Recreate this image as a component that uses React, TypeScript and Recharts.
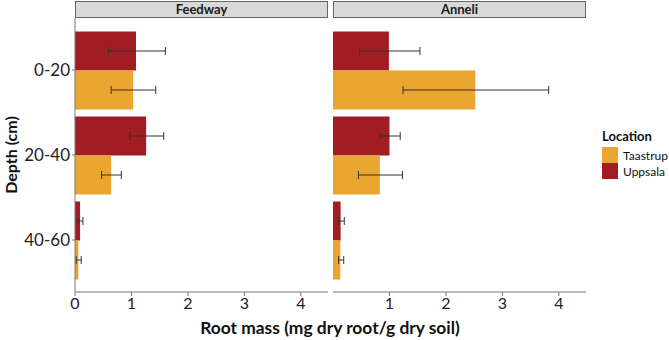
import React from 'react';
import { Bar, BarChart, ErrorBar, XAxis, YAxis } from 'recharts';

const depths = ['0-20', '20-40', '40-60'];

// Feedway means and error bar bounds (mg dry root / g dry soil)
const feedwayUppsala = [1.08, 1.26, 0.09];
const feedwayUppsalaLow = [0.59, 0.97, 0.05];
const feedwayUppsalaHigh = [1.6, 1.57, 0.14];
const feedwayTaastrup = [1.03, 0.64, 0.06];
const feedwayTaastrupLow = [0.64, 0.47, 0.02];
const feedwayTaastrupHigh = [1.43, 0.82, 0.11];

// Anneli
const anneliUppsala = [0.99, 1.0, 0.135];
const anneliUppsalaLow = [0.47, 0.83, 0.1];
const anneliUppsalaHigh = [1.54, 1.19, 0.2];
const anneliTaastrup = [2.52, 0.83, 0.13];
const anneliTaastrupLow = [1.24, 0.45, 0.1];
const anneliTaastrupHigh = [3.82, 1.23, 0.19];

const xTicks = [0, 1, 2, 3, 4];

const RED = '#A11D23';
const ORANGE = '#EAA631';
const FONT = 'Lato, "Open Sans", sans-serif';

const buildRows = (
    upp: number[], uppLo: number[], uppHi: number[],
    taa: number[], taaLo: number[], taaHi: number[]
) =>
    depths.map((depth, i) => ({
        depth,
        uppsala: upp[i],
        uppsalaErr: [upp[i] - uppLo[i], uppHi[i] - upp[i]],
        taastrup: taa[i],
        taastrupErr: [taa[i] - taaLo[i], taaHi[i] - taa[i]],
    }));

const feedwayData = buildRows(
    feedwayUppsala, feedwayUppsalaLow, feedwayUppsalaHigh,
    feedwayTaastrup, feedwayTaastrupLow, feedwayTaastrupHigh
);
const anneliData = buildRows(
    anneliUppsala, anneliUppsalaLow, anneliUppsalaHigh,
    anneliTaastrup, anneliTaastrupLow, anneliTaastrupHigh
);

type PanelProps = {
    data: object[],
    width: number,
    showYAxis: boolean,
};

const Panel = ({ data, width, showYAxis }: PanelProps) => (
    <BarChart
        width={width}
        height={340}
        data={data}
        layout="vertical"
        margin={{ top: 18, right: 0, bottom: 18, left: 0 }}
        barCategoryGap={4}
        barGap={0}
    >
        <XAxis
            type="number"
            domain={[0, 4.48]}
            ticks={xTicks}
            allowDataOverflow
            height={30}
            tickSize={4}
            stroke="#777"
            tick={{ fill: '#222', fontSize: 16, fontFamily: FONT }}
        />
        <YAxis
            type="category"
            dataKey="depth"
            width={showYAxis ? 75 : 0}
            hide={!showYAxis}
            padding={{ top: 9.5, bottom: 9.5 }}
            tickSize={3}
            stroke="#777"
            tick={{ fill: '#222', fontSize: 17, fontFamily: FONT }}
        />
        <Bar dataKey="uppsala" fill={RED} isAnimationActive={false}>
            <ErrorBar dataKey="uppsalaErr" direction="x" width={4} stroke="#333" strokeWidth={1} />
        </Bar>
        <Bar dataKey="taastrup" fill={ORANGE} isAnimationActive={false}>
            <ErrorBar dataKey="taastrupErr" direction="x" width={4} stroke="#333" strokeWidth={1} />
        </Bar>
    </BarChart>
);

const Strip = ({ left, width, label }: { left: number, width: number, label: string }) => (
    <div
        style={{
            position: 'absolute', left, top: 1, width, height: 17, boxSizing: 'border-box',
            background: '#D9D9D9', border: '1px solid #666',
            fontFamily: FONT, fontWeight: 700, fontSize: 13, color: '#1a1a1a',
            textAlign: 'center', lineHeight: '15px',
        }}
    >
        {label}
    </div>
);

const App = () => {
    return (
        <div style={{ position: 'absolute', left: 0, top: 0, width: 669, height: 340, background: '#fff', fontFamily: FONT }}>
            <div style={{ position: 'absolute', left: 0, top: 0 }}>
                <Panel data={feedwayData} width={328} showYAxis />
            </div>
            <div style={{ position: 'absolute', left: 333, top: 0 }}>
                <Panel data={anneliData} width={253} showYAxis={false} />
            </div>
            <Strip left={75} width={253} label="Feedway" />
            <Strip left={333} width={253} label="Anneli" />

            <div
                style={{
                    position: 'absolute', left: 10, top: 155, transform: 'translate(-50%, -50%) rotate(-90deg)',
                    fontWeight: 700, fontSize: 16, color: '#111', whiteSpace: 'nowrap',
                }}
            >
                Depth (cm)
            </div>
            <div
                style={{
                    position: 'absolute', left: 330, top: 327, transform: 'translate(-50%, -50%)',
                    fontWeight: 700, fontSize: 17.4, color: '#111', whiteSpace: 'nowrap',
                }}
            >
                Root mass (mg dry root/g dry soil)
            </div>

            <div style={{ position: 'absolute', left: 602, top: 128, width: 67, fontSize: 12, color: '#111', whiteSpace: 'nowrap' }}>
                <div style={{ fontWeight: 700, fontSize: 13, height: 19, lineHeight: '16px' }}>Location</div>
                <div style={{ display: 'flex', alignItems: 'center', height: 16 }}>
                    <span style={{ width: 16, height: 16, background: ORANGE, display: 'inline-block', flexShrink: 0 }} />
                    <span style={{ marginLeft: 5 }}>Taastrup</span>
                </div>
                <div style={{ display: 'flex', alignItems: 'center', height: 16 }}>
                    <span style={{ width: 16, height: 16, background: RED, display: 'inline-block', flexShrink: 0 }} />
                    <span style={{ marginLeft: 5 }}>Uppsala</span>
                </div>
            </div>
        </div>
    );
};

export default App;
